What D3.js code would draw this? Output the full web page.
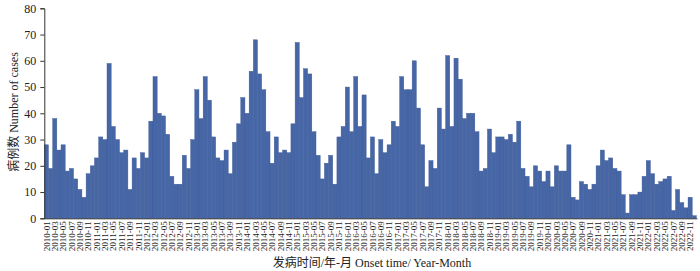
<!DOCTYPE html>
<html>
<head>
<meta charset="utf-8">
<script src="https://cdn.jsdelivr.net/npm/d3@7"></script>
<style>
  html, body { margin: 0; padding: 0; background: #fff; }
  svg { display: block; }
  text { font-family: "Liberation Serif", "Noto Sans CJK SC", serif; fill: #222; }
</style>
</head>
<body>
<svg id="chart" width="700" height="271"></svg>
<script>
const years = [2010, 2011, 2012, 2013, 2014, 2015, 2016, 2017, 2018, 2019, 2020, 2021, 2022];
const cases2010 = [28, 19, 38, 26, 28, 18, 19, 15, 11, 8, 17, 20];
const cases2011 = [23, 31, 30, 59, 35, 30, 25, 26, 11, 23, 19, 25];
const cases2012 = [23, 37, 54, 40, 39, 32, 16, 13, 13, 24, 19, 30];
const cases2013 = [49, 38, 54, 45, 31, 23, 22, 26, 17, 29, 36, 46];
const cases2014 = [40, 56, 68, 55, 49, 33, 21, 31, 25, 26, 25, 36];
const cases2015 = [67, 46, 57, 55, 33, 24, 15, 21, 24, 13, 31, 35];
const cases2016 = [50, 33, 54, 35, 47, 23, 31, 17, 30, 25, 28, 37];
const cases2017 = [35, 54, 49, 49, 60, 42, 28, 12, 22, 19, 42, 34];
const cases2018 = [62, 35, 61, 53, 38, 40, 40, 33, 18, 19, 34, 25];
const cases2019 = [31, 31, 30, 32, 29, 37, 19, 16, 12, 20, 18, 14];
const cases2020 = [18, 12, 20, 18, 18, 28, 8, 7, 14, 13, 11, 13];
const cases2021 = [20, 26, 22, 23, 19, 18, 9, 2, 9, 9, 10, 16];
const cases2022 = [22, 17, 13, 14, 15, 16, 3, 11, 6, 4, 8, 1];
const yTicks = [0, 10, 20, 30, 40, 50, 60, 70, 80];
const yTitle = "病例数 Number of cases";
const xTitle = "发病时间/年-月 Onset time/ Year-Month";

const allYears = [cases2010, cases2011, cases2012, cases2013, cases2014, cases2015, cases2016,
  cases2017, cases2018, cases2019, cases2020, cases2021, cases2022];
const data = [];
years.forEach((yr, i) => {
  allYears[i].forEach((v, m) => {
    data.push({ month: yr + "-" + String(m + 1).padStart(2, "0"), value: v });
  });
});
const tickLabels = data.map(d => d.month).filter((_, i) => i % 2 === 0);

const svg = d3.select("#chart");
const mLeft = 44.3, mRight = 696.4, mTop = 8.3, mBottom = 218.3;

const x = d3.scaleBand().domain(data.map(d => d.month)).range([mLeft, mRight]).padding(0);
const y = d3.scaleLinear().domain([0, 80]).range([mBottom, mTop]);

// bars
svg.append("g").selectAll("rect").data(data).join("rect")
  .attr("x", d => x(d.month))
  .attr("y", d => y(d.value))
  .attr("width", x.bandwidth())
  .attr("height", d => y(0) - y(d.value))
  .attr("fill", "#4766a6")
  .attr("stroke", "#3d5b97")
  .attr("stroke-width", 0.4);

// y axis
const yAxis = svg.append("g").attr("transform", `translate(${mLeft},0)`)
  .call(d3.axisLeft(y).tickValues(yTicks).tickSize(4).tickPadding(4));
yAxis.select(".domain").attr("stroke", "#333");
yAxis.selectAll(".tick line").attr("stroke", "#333");
yAxis.selectAll("text").attr("font-size", 12).attr("font-family", "Liberation Serif").attr("fill", "#222");

// x axis
const xAxis = svg.append("g").attr("transform", `translate(0,${mBottom})`)
  .call(d3.axisBottom(x).tickValues(tickLabels).tickSize(0).tickPadding(0));
xAxis.select(".domain").attr("stroke", "#333").attr("d", `M${mLeft},0.5H${mRight + 1}`);
xAxis.selectAll("text")
  .attr("font-size", 9)
  .attr("font-family", "Liberation Serif")
  .attr("fill", "#222")
  .attr("text-anchor", "end")
  .attr("transform", "rotate(-90)")
  .attr("x", -3)
  .attr("y", 0)
  .attr("dy", "0.35em");

// titles
svg.append("text")
  .attr("transform", "translate(14,112) rotate(-90)")
  .attr("text-anchor", "middle")
  .attr("dominant-baseline", "central")
  .attr("font-size", 12)
  .text(yTitle);

svg.append("text")
  .attr("x", 372)
  .attr("y", 263)
  .attr("text-anchor", "middle")
  .attr("dominant-baseline", "central")
  .attr("font-size", 12)
  .text(xTitle);
</script>
</body>
</html>
